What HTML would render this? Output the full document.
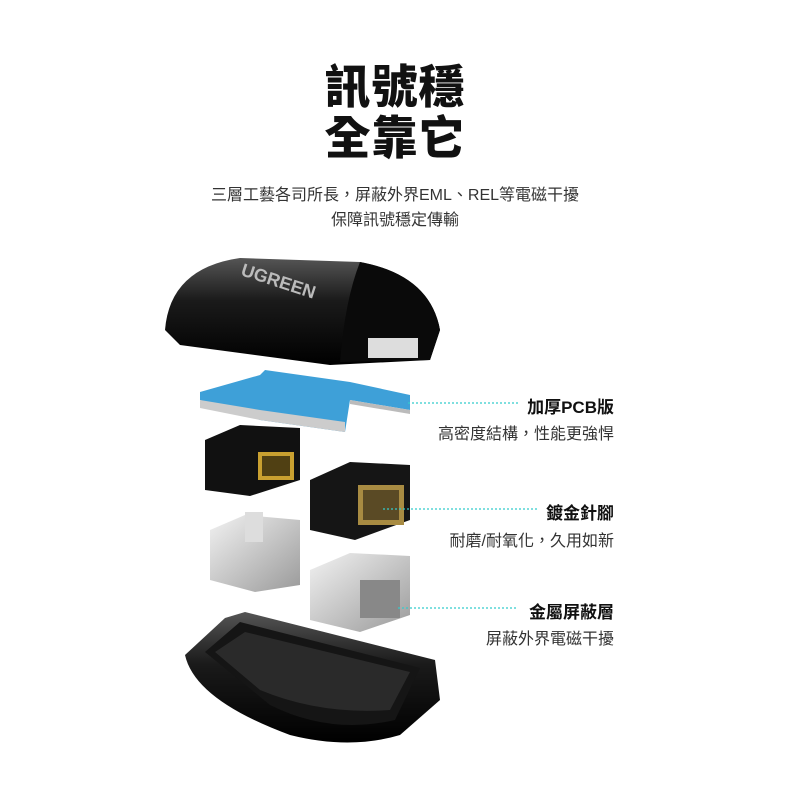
<!DOCTYPE html>
<html><head><meta charset="utf-8"><style>
body{margin:0;width:790px;height:790px;background:#fff;position:relative;overflow:hidden;font-family:"Liberation Sans","Noto Sans CJK TC",sans-serif;color:#222}
.t{position:absolute;left:0;width:790px;text-align:center;font-weight:900;font-size:46px;letter-spacing:1px;color:#111}
.s{position:absolute;left:0;width:790px;text-align:center;font-size:16px;color:#333}
.l{position:absolute;right:176px;text-align:right;white-space:nowrap}
.b{font-weight:700;font-size:17px;color:#111}
.n{font-size:16px;color:#333}
</style></head><body>
<div class="t" style="top:51px">訊號穩</div>
<div class="t" style="top:102px">全靠它</div>
<div class="s" style="top:181px">三層工藝各司所長，屏蔽外界EML、REL等電磁干擾</div>
<div class="s" style="top:206px">保障訊號穩定傳輸</div>
<svg width="790" height="790" style="position:absolute;left:0;top:0">
<defs>
<linearGradient id="bk" x1="0" y1="0" x2="0" y2="1"><stop offset="0" stop-color="#555"/><stop offset=".4" stop-color="#1a1a1a"/><stop offset="1" stop-color="#000"/></linearGradient>
<linearGradient id="mt" x1="0" y1="0" x2="1" y2="1"><stop offset="0" stop-color="#f2f2f2"/><stop offset="1" stop-color="#9a9a9a"/></linearGradient>
</defs>
<path d="M165 330 Q170 268 240 258 L360 262 Q430 275 440 330 L430 360 L330 365 L180 345 Z" fill="url(#bk)"/>
<path d="M360 262 Q430 275 440 330 L430 360 L340 362 Q345 300 360 262Z" fill="#0a0a0a"/>
<rect x="368" y="338" width="50" height="20" fill="#ddd"/>
<text x="240" y="275" transform="rotate(18 240 275)" fill="#bbb" font-size="18" font-weight="700" font-family="Liberation Sans">UGREEN</text>
<path d="M200 392 L260 375 L265 370 L350 382 L410 395 L410 410 L350 400 L345 432 L260 420 L200 400Z" fill="#3ea0d8"/>
<path d="M200 400 L260 410 L345 422 L345 432 L260 420 L200 408Z" fill="#ccc"/>
<path d="M350 400 L410 410 L410 414 L350 404Z" fill="#bbb"/>
<path d="M205 440 L240 425 L300 428 L300 480 L250 496 L205 490Z" fill="#111"/>
<rect x="258" y="452" width="36" height="28" fill="#c9a030"/>
<rect x="262" y="456" width="28" height="20" fill="#000" opacity=".6"/>
<path d="M310 480 L350 462 L410 465 L410 520 L355 540 L310 530Z" fill="#151515"/>
<rect x="358" y="485" width="46" height="40" fill="#a88b42"/>
<rect x="363" y="490" width="36" height="30" fill="#5a4a25"/>
<path d="M210 530 L245 515 L300 520 L300 585 L255 592 L210 580Z" fill="url(#mt)"/>
<rect x="245" y="512" width="18" height="30" fill="#ddd"/>
<path d="M310 570 L350 553 L410 556 L410 615 L360 632 L310 620Z" fill="url(#mt)"/>
<rect x="360" y="580" width="40" height="38" fill="#888"/>
<path d="M185 655 Q195 700 290 735 Q350 750 400 735 L440 700 L435 660 L245 612 L225 618Z" fill="url(#bk)"/>
<path d="M205 652 L240 622 L420 668 L395 720 Q330 735 270 705Z" fill="#151515"/>
<path d="M215 652 L245 632 L410 672 L390 710 Q320 715 260 690Z" fill="#2a2a2a"/>
<g stroke="#3cc" stroke-width="1.2" stroke-dasharray="2 2">
<line x1="408" y1="403" x2="518" y2="403"/>
<line x1="383" y1="509" x2="537" y2="509"/>
<line x1="398" y1="608" x2="518" y2="608"/>
</g>
</svg>
<div class="l b" style="top:393px">加厚PCB版</div>
<div class="l n" style="top:420px">高密度結構，性能更強悍</div>
<div class="l b" style="top:499px">鍍金針腳</div>
<div class="l n" style="top:527px">耐磨/耐氧化，久用如新</div>
<div class="l b" style="top:598px">金屬屏蔽層</div>
<div class="l n" style="top:625px">屏蔽外界電磁干擾</div>
</body></html>
